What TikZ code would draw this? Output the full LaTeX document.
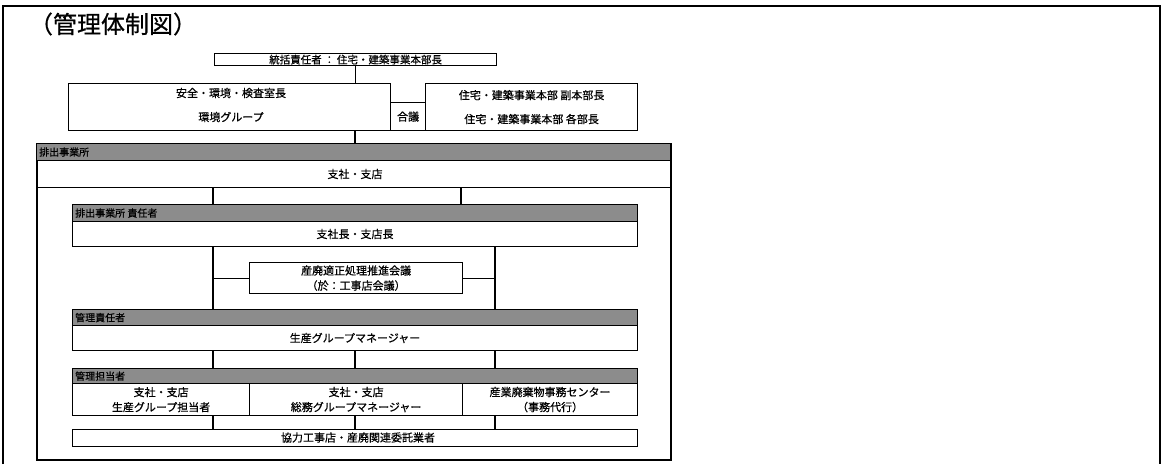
\documentclass[tikz,border=0pt]{standalone}
\usepackage{fontspec}
\setmainfont{Noto Sans CJK JP}[FakeBold=0.6]
\begin{document}
\begin{tikzpicture}[x=1pt,y=-1pt,
  box/.style={draw, line width=1.2pt, inner sep=0pt, anchor=north west},
  hdr/.style={draw, line width=1.2pt, fill=black!45, inner sep=0pt, anchor=north west},
  txt/.style={font=\fontsize{11}{14}\selectfont, align=center, inner sep=0pt},
  htxt/.style={font=\fontsize{10}{12}\selectfont, anchor=west, inner sep=0pt},
  conn/.style={line width=1.2pt},
  frame/.style={line width=1.4pt}]
\useasboundingbox (0,0) rectangle (1163,464);
% page frame
\draw[frame] (3,464) -- (3,6) -- (1160,6) -- (1160,464);
% title
\node[font=\fontsize{24}{26}\selectfont, inner sep=0pt] (title) at (113,24) {（管理体制図）};
% top
\node[box, minimum width=282pt, minimum height=12pt] (top) at (214,53) {};
\node[txt, font=\fontsize{10.5}{12}\selectfont] (toptxt) at (top.center) {統括責任者\ ：\ 住宅・建築事業本部長};
\node[box, minimum width=322pt, minimum height=47pt] (left) at (68,83) {};
\node[txt, font=\fontsize{11}{24}\selectfont] (lefttxt) at (231,105) {安全・環境・検査室長\\環境グループ};
\node[box, minimum width=35pt, minimum height=28pt] (gougi) at (390,102) {};
\node[txt] (gougitxt) at (gougi.center) {合議};
\node[box, minimum width=212pt, minimum height=47pt] (right) at (425,83) {};
\node[txt, font=\fontsize{11}{24}\selectfont] (righttxt) at (right.center) {住宅・建築事業本部 副本部長\\住宅・建築事業本部 各部長};
% outer
\node[box, line width=1.5pt, minimum width=634pt, minimum height=316pt] (outer) at (36,143) {};
\node[hdr, minimum width=634pt, minimum height=17pt] (outerh) at (36,143) {};
\node[htxt] (outerht) at ([xshift=3pt]outerh.west) {排出事業所};
\node[box, minimum width=634pt, minimum height=27pt] (branch) at (36,160) {};
\node[txt] (branchtxt) at (355,174) {支社・支店};
% responsible
\node[box, minimum width=565pt, minimum height=42pt] (resp) at (72,204) {};
\node[hdr, minimum width=565pt, minimum height=17pt] (resph) at (72,204) {};
\node[htxt] (respht) at ([xshift=3pt]resph.west) {排出事業所 責任者};
\node[txt] (resptxt) at (355,234) {支社長・支店長};
% conference
\node[box, minimum width=213pt, minimum height=31pt] (conf) at (249,262) {};
\node[txt, font=\fontsize{11}{15}\selectfont] (conftxt) at (conf.center) {産廃適正処理推進会議\\（於：工事店会議）};
% manager
\node[box, minimum width=565pt, minimum height=41pt] (mgr) at (72,309) {};
\node[hdr, minimum width=565pt, minimum height=16pt] (mgrh) at (72,309) {};
\node[htxt] (mgrht) at ([xshift=3pt]mgrh.west) {管理責任者};
\node[txt] (mgrtxt) at (355,338) {生産グループマネージャー};
% staff
\node[box, minimum width=565pt, minimum height=47pt] (staff) at (72,368) {};
\node[hdr, minimum width=565pt, minimum height=15pt] (staffh) at (72,368) {};
\node[htxt] (staffht) at ([xshift=3pt]staffh.west) {管理担当者};
\node[box, minimum width=177pt, minimum height=32pt] (col1) at (72,383) {};
\node[box, minimum width=213pt, minimum height=32pt] (col2) at (249,383) {};
\node[box, minimum width=175pt, minimum height=32pt] (col3) at (462,383) {};
\node[txt, font=\fontsize{11}{15}\selectfont] (col1t) at (col1.center) {支社・支店\\生産グループ担当者};
\node[txt, font=\fontsize{11}{15}\selectfont] (col2t) at (col2.center) {支社・支店\\総務グループマネージャー};
\node[txt, font=\fontsize{11}{15}\selectfont] (col3t) at (col3.center) {産業廃棄物事務センター\\（事務代行）};
% cooperating
\node[box, minimum width=565pt, minimum height=17pt] (coop) at (72,429) {};
\node[txt] (cooptxt) at (358,437.5) {協力工事店・産廃関連委託業者};
% connector x positions
\coordinate (xa) at (213,0);
\coordinate (xb) at (355,0);
\coordinate (xc) at (461,0);
\coordinate (xd) at (495,0);
% connectors
\draw[conn] (top.south) -- (top.south |- left.north);
\draw[conn] (left.south -| xb) -- (outer.north -| xb);
\draw[conn] (branch.south -| xa) -- (resp.north -| xa);
\draw[conn] (branch.south -| xc) -- (resp.north -| xc);
\draw[conn] (resp.south -| xa) -- (mgr.north -| xa);
\draw[conn] (resp.south -| xd) -- (mgr.north -| xd);
\draw[conn] (conf.west) -- (conf.west -| xa);
\draw[conn] (conf.east) -- (conf.east -| xd);
\draw[conn] (mgr.south -| xa) -- (staff.north -| xa);
\draw[conn] (mgr.south -| xb) -- (staff.north -| xb);
\draw[conn] (mgr.south -| xd) -- (staff.north -| xd);
\draw[conn] (staff.south -| xa) -- (coop.north -| xa);
\draw[conn] (staff.south -| xb) -- (coop.north -| xb);
\draw[conn] (staff.south -| xd) -- (coop.north -| xd);
\end{tikzpicture}
\end{document}
